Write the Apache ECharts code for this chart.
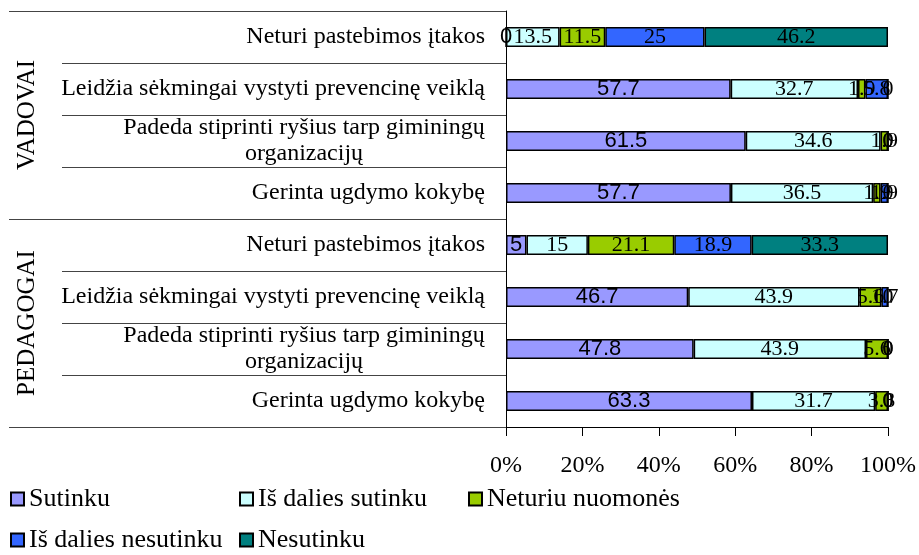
<!DOCTYPE html>
<html lang="lt">
<head>
    <meta charset="UTF-8">
    <title>Prevencinė veikla</title>
    <script src="https://cdn.jsdelivr.net/npm/echarts@6.0.0/dist/echarts.min.js"></script>
</head>
<body style="margin:0">
    <div id="main" style="width: 919px;height:555px;"></div>
    <script type="text/javascript">
        // rows top to bottom
        const categories = [
            'Neturi pastebimos įtakos',
            'Leidžia sėkmingai vystyti prevencinę veiklą',
            'Padeda stiprinti ryšius tarp giminingų\norganizacijų',
            'Gerinta ugdymo kokybę',
            'Neturi pastebimos įtakos',
            'Leidžia sėkmingai vystyti prevencinę veiklą',
            'Padeda stiprinti ryšius tarp giminingų\norganizacijų',
            'Gerinta ugdymo kokybę'
        ];
        const groups = ['VADOVAI', 'PEDAGOGAI'];
        const seriesNames = ['Sutinku', 'Iš dalies sutinku', 'Neturiu nuomonės', 'Iš dalies nesutinku', 'Nesutinku'];

        const sutinku = [0, 57.7, 61.5, 57.7, 5, 46.7, 47.8, 63.3];
        const isDaliesSutinku = [13.5, 32.7, 34.6, 36.5, 15, 43.9, 43.9, 31.7];
        const neturiuNuomones = [11.5, 1.9, 1.9, 1.9, 21.1, 5.6, 5.6, 3.3];
        const isDaliesNesutinku = [25, 5.8, 0, 1.9, 18.9, 1.7, 0, 0];
        const nesutinku = [46.2, 0, 0, 0, 33.3, 0, 0, 0];

        const xTicks = [0, 20, 40, 60, 80, 100];
        const colors = ['#9999FF', '#CCFFFF', '#99CC00', '#3366FF', '#008080'];

        const allValues = [sutinku, isDaliesSutinku, neturiuNuomones, isDaliesNesutinku, nesutinku];
        // 100% stacked: each row scaled by its own total, labels keep raw value
        const rowSums = categories.map((c, i) => allValues.reduce((s, arr) => s + arr[i], 0));

        const serif = 'Liberation Serif';
        const sans = 'Liberation Sans';

        let myChart = echarts.init(document.getElementById('main'));

        const series = allValues.map((arr, k) => ({
            name: seriesNames[k],
            type: 'bar',
            stack: 'total',
            barWidth: 20,
            itemStyle: { color: colors[k], borderColor: '#000', borderWidth: 1.5 },
            label: {
                show: true,
                position: 'inside',
                color: '#000',
                textBorderWidth: 0,
                fontFamily: k === 0 ? sans : serif,
                fontSize: 22,
                formatter: p => String(p.data.raw)
            },
            emphasis: { disabled: true },
            data: arr.map((v, i) => ({ value: v / rowSums[i] * 100, raw: v }))
        }));

        const legendText = {
            fontFamily: serif,
            fontSize: 26,
            color: '#000',
            width: 200,
            lineHeight: 26
        };

        let options = {
            animation: false,
            grid: { left: 506, right: 30, top: 11, bottom: 128 },
            legend: [
                {
                    data: seriesNames.slice(0, 3),
                    left: 10, top: 486, padding: 0,
                    icon: 'rect', itemWidth: 13, itemHeight: 13, itemGap: 10,
                    textStyle: legendText
                },
                {
                    data: seriesNames.slice(3),
                    left: 10, top: 527, padding: 0,
                    icon: 'rect', itemWidth: 13, itemHeight: 13, itemGap: 10,
                    textStyle: legendText
                }
            ],
            xAxis: {
                type: 'value',
                min: xTicks[0],
                max: xTicks[xTicks.length - 1],
                interval: 20,
                splitLine: { show: false },
                axisLine: { show: true, lineStyle: { color: '#000' } },
                axisTick: { show: true, length: 9, lineStyle: { color: '#000' } },
                axisLabel: {
                    formatter: '{value}%',
                    margin: 27,
                    fontFamily: serif,
                    fontSize: 24,
                    color: '#000'
                }
            },
            yAxis: [
                {
                    type: 'category',
                    data: categories,
                    inverse: true,
                    position: 'left',
                    axisLine: { show: true, lineStyle: { color: '#000' } },
                    axisTick: { show: true, length: 444, lineStyle: { color: '#444' } },
                    axisLabel: {
                        margin: 21,
                        fontFamily: serif,
                        fontSize: 24,
                        lineHeight: 26,
                        color: '#000',
                        formatter: v => v.indexOf('\n') >= 0
                            ? v.split('\n').map(s => '{c|' + s + '}').join('\n')
                            : v,
                        rich: {
                            c: { width: 362, align: 'center', fontFamily: serif, fontSize: 24, lineHeight: 26, color: '#000' }
                        }
                    }
                },
                {
                    type: 'category',
                    data: groups,
                    inverse: true,
                    position: 'left',
                    axisLine: { show: false },
                    axisTick: { show: true, length: 497, lineStyle: { color: '#444' } },
                    axisLabel: {
                        rotate: 90,
                        margin: 466,
                        fontFamily: serif,
                        fontSize: 25,
                        color: '#000'
                    }
                }
            ],
            series: series
        };

        myChart.setOption(options);
    </script>
</body>
</html>
